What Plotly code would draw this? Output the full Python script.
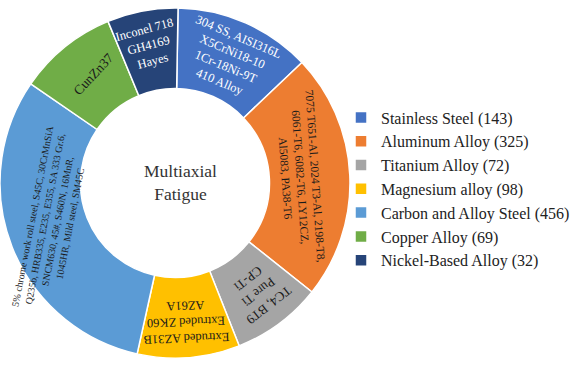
import math
import plotly.graph_objects as go

# Alloy families and the number of multiaxial fatigue studies for each
categories = [
    "Stainless Steel",
    "Aluminum Alloy",
    "Titanium Alloy",
    "Magnesium alloy",
    "Carbon and Alloy Steel",
    "Copper Alloy",
    "Nickel-Based Alloy",
]
counts = [143, 325, 72, 98, 456, 69, 32]

# Angular share (degrees) of each ring segment as drawn
segment_deg = [45.5, 82, 30, 34, 112, 33, 23.5]

# Grades listed inside each segment
grades = [
    "304 SS, AISI316L<br>X5CrNi18-10<br>1Cr-18Ni-9T<br>410 Alloy",
    "7075 T651-Al, 2024 T3-Al, 2198-T8,<br>6061-T6, 6082-T6, LY12CZ,<br>Al5083, PA38-T6",
    "TC4, BT9<br>Pure Ti<br>CP-Ti",
    "Extruded AZ31B<br>Extruded ZK60<br>AZ61A",
    "5% chrome work roll steel, S45C, 30CrMnSiA<br>Q235b, HRB335, E235, E355, SA 333 Gr.6,"
    "<br>SNCM630, 45#, S460N, 16MnR,<br>1045HR, Mild steel, SM45C",
    "CunZn37",
    "Inconel 718<br>GH4169<br>Hayes",
]

colors = ["#4472C4", "#ED7D31", "#A5A5A5", "#FFC000", "#5B9BD5", "#70AD47", "#264478"]
text_colors = ["white", "#1a1a1a", "#1a1a1a", "#1a1a1a", "#1a1a1a", "#1a1a1a", "white"]
text_sizes = [12.5, 11.5, 13, 12.5, 9.8, 13.5, 12.5]
text_tilt = [23, 86, 142, 178, -79, -47, -15]    # rotation of each label block
text_r = [135, 125, 137, 139, 129, 136, 140]     # radial position of label centre (px)
text_shift = [0, 0, -1, 0, 5, 2, 0]              # small angular nudge (deg)

W, H = 587, 372
FONT = "Liberation Serif"
start_deg = 1.0

# ring geometry in pixels
dom_w = 350
dom_y0 = 0.016
cx = dom_w / 2
cy = H * (1 - dom_y0) / 2
hole = 0.54

fig = go.Figure()
fig.add_trace(go.Pie(
    labels=[f"{c} ({n})" for c, n in zip(categories, counts)],
    values=segment_deg,
    sort=False,
    direction="clockwise",
    rotation=start_deg,
    hole=hole,
    textinfo="none",
    hoverinfo="label",
    marker=dict(colors=colors, line=dict(color="white", width=1.5)),
    domain=dict(x=[0, dom_w / W], y=[dom_y0, 1]),
))

# labels placed along the ring from the segment angles
total = sum(segment_deg)
acc = start_deg
annotations = []
for i, w in enumerate(segment_deg):
    span = 360 * w / total
    mid = acc + span / 2 + text_shift[i]
    acc += span
    a = math.radians(mid)
    px = cx + text_r[i] * math.sin(a)
    py = cy - text_r[i] * math.cos(a)
    annotations.append(dict(
        x=px / W, y=1 - py / H, xref="paper", yref="paper",
        text=grades[i], showarrow=False, textangle=text_tilt[i],
        xanchor="center", yanchor="middle", align="center",
        font=dict(family=FONT, size=text_sizes[i], color=text_colors[i]),
    ))

annotations.append(dict(
    x=(cx + 5) / W, y=1 - (cy - 1) / H, xref="paper", yref="paper",
    text="Multiaxial<br>Fatigue", showarrow=False,
    xanchor="center", yanchor="middle", align="center",
    font=dict(family=FONT, size=17.5, color="#333333"),
))

fig.update_layout(
    width=W, height=H,
    margin=dict(l=0, r=0, t=0, b=0),
    font=dict(family=FONT),
    paper_bgcolor="white",
    plot_bgcolor="white",
    annotations=annotations,
    showlegend=True,
    legend=dict(
        x=341 / W, y=1 - 189 / H, xanchor="left", yanchor="middle",
        font=dict(family=FONT, size=16, color="#222222"),
        bgcolor="rgba(0,0,0,0)",
        itemwidth=30,
    ),
)

fig.write_html("out.html")
